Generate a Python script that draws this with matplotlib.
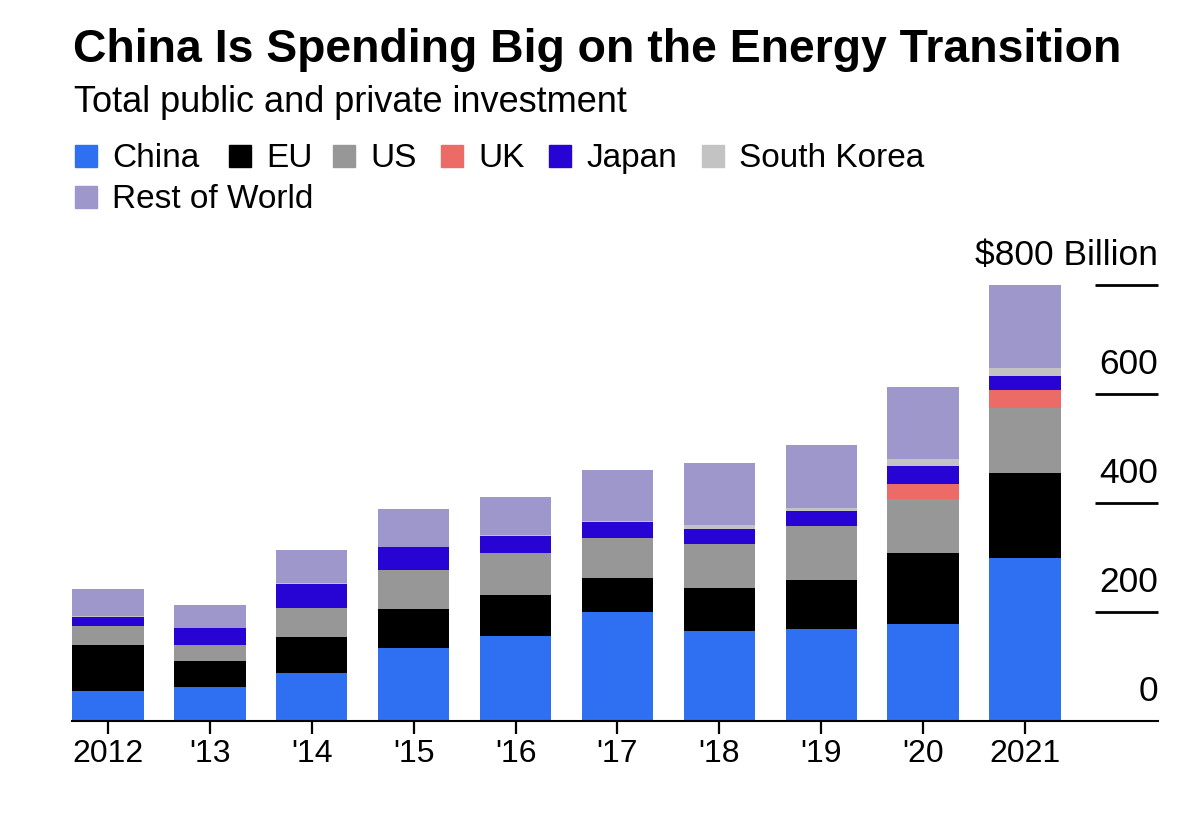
import numpy as np
import matplotlib
matplotlib.use("Agg")
import matplotlib.pyplot as plt
import matplotlib.transforms as mtransforms
from matplotlib.patches import Rectangle

plt.rcParams['font.family'] = ['Liberation Sans', 'DejaVu Sans']

# data, billions of USD
years = ['2012', "'13", "'14", "'15", "'16", "'17", "'18", "'19", "'20", '2021']
china = [54, 61, 87, 133, 156, 199, 165, 168, 177, 298]
eu = [85, 49, 66, 72, 74, 63, 79, 90, 131, 156]
us = [35, 28, 53, 72, 77, 73, 80, 100, 98, 120]
uk = [0, 0, 0, 0, 0, 0, 0, 0, 29, 33]
japan = [17, 32, 45, 41, 31, 29, 28, 26, 32, 26]
south_korea = [2, 1, 2, 1, 2, 3, 8, 6, 14, 14]
rest_of_world = [49, 41, 60, 69, 70, 93, 113, 115, 131, 153]

y_ticks = [0, 200, 400, 600, 800]
y_labels = ['0', '200', '400', '600', '$800 Billion']

series = [
    ('China', china, '#2f70f2'),
    ('EU', eu, '#000000'),
    ('US', us, '#979797'),
    ('UK', uk, '#ec6b66'),
    ('Japan', japan, '#2703d4'),
    ('South Korea', south_korea, '#c3c3c3'),
    ('Rest of World', rest_of_world, '#9e97cb'),
]

W, H = 1200, 827
fig = plt.figure(figsize=(12, 8.27), dpi=100)
ax = fig.add_axes([72 / W, 1 - 720.7 / H, (1158 - 72) / W, 436 / H])

x = np.arange(len(years))
bottom = np.zeros(len(years))
for name, vals, col in series:
    vals = np.array(vals, dtype=float)
    ax.bar(x, vals, 0.7, bottom=bottom, color=col, linewidth=0)
    bottom += vals

ax.set_xlim(-0.353, 10.305)
ax.set_ylim(0, 800)

for s in ['top', 'left', 'right']:
    ax.spines[s].set_visible(False)
ax.spines['bottom'].set_linewidth(1.5)
ax.set_yticks([])
ax.set_xticks(x)
ax.set_xticklabels(years, fontsize=23)
ax.tick_params(axis='x', length=9, width=1.6, pad=4, color='black')

# right side value lines and labels
ytrans = ax.get_yaxis_transform()
ax.hlines(y_ticks[1:], 0.942, 1.0, transform=ytrans, color='black',
          linewidth=2, clip_on=False)
lab_trans = mtransforms.offset_copy(ytrans, fig=fig, y=14.5, units='points')
for v, lab in zip(y_ticks, y_labels):
    ax.text(1.0, v, lab, transform=lab_trans, ha='right', va='baseline',
            fontsize=25.5)

# title and subtitle
fig.text(73 / W, 1 - 62 / H, 'China Is Spending Big on the Energy Transition',
         fontsize=33.4, fontweight='bold', va='baseline', ha='left')
fig.text(74 / W, 1 - 112 / H, 'Total public and private investment',
         fontsize=26, va='baseline', ha='left')

# legend, drawn by hand
leg_x = [75, 229, 333, 441, 549, 702, 75]
leg_row = [0, 0, 0, 0, 0, 0, 1]
for (name, vals, col), lx, r in zip(series, leg_x, leg_row):
    top = 145 + r * 41
    fig.patches.append(Rectangle((lx / W, 1 - (top + 22) / H), 22 / W, 22 / H,
                                 transform=fig.transFigure, color=col))
    fig.text((lx + 37) / W, 1 - (top + 22) / H, name, fontsize=24,
             va='baseline', ha='left')

plt.savefig('out.png', dpi=100)
